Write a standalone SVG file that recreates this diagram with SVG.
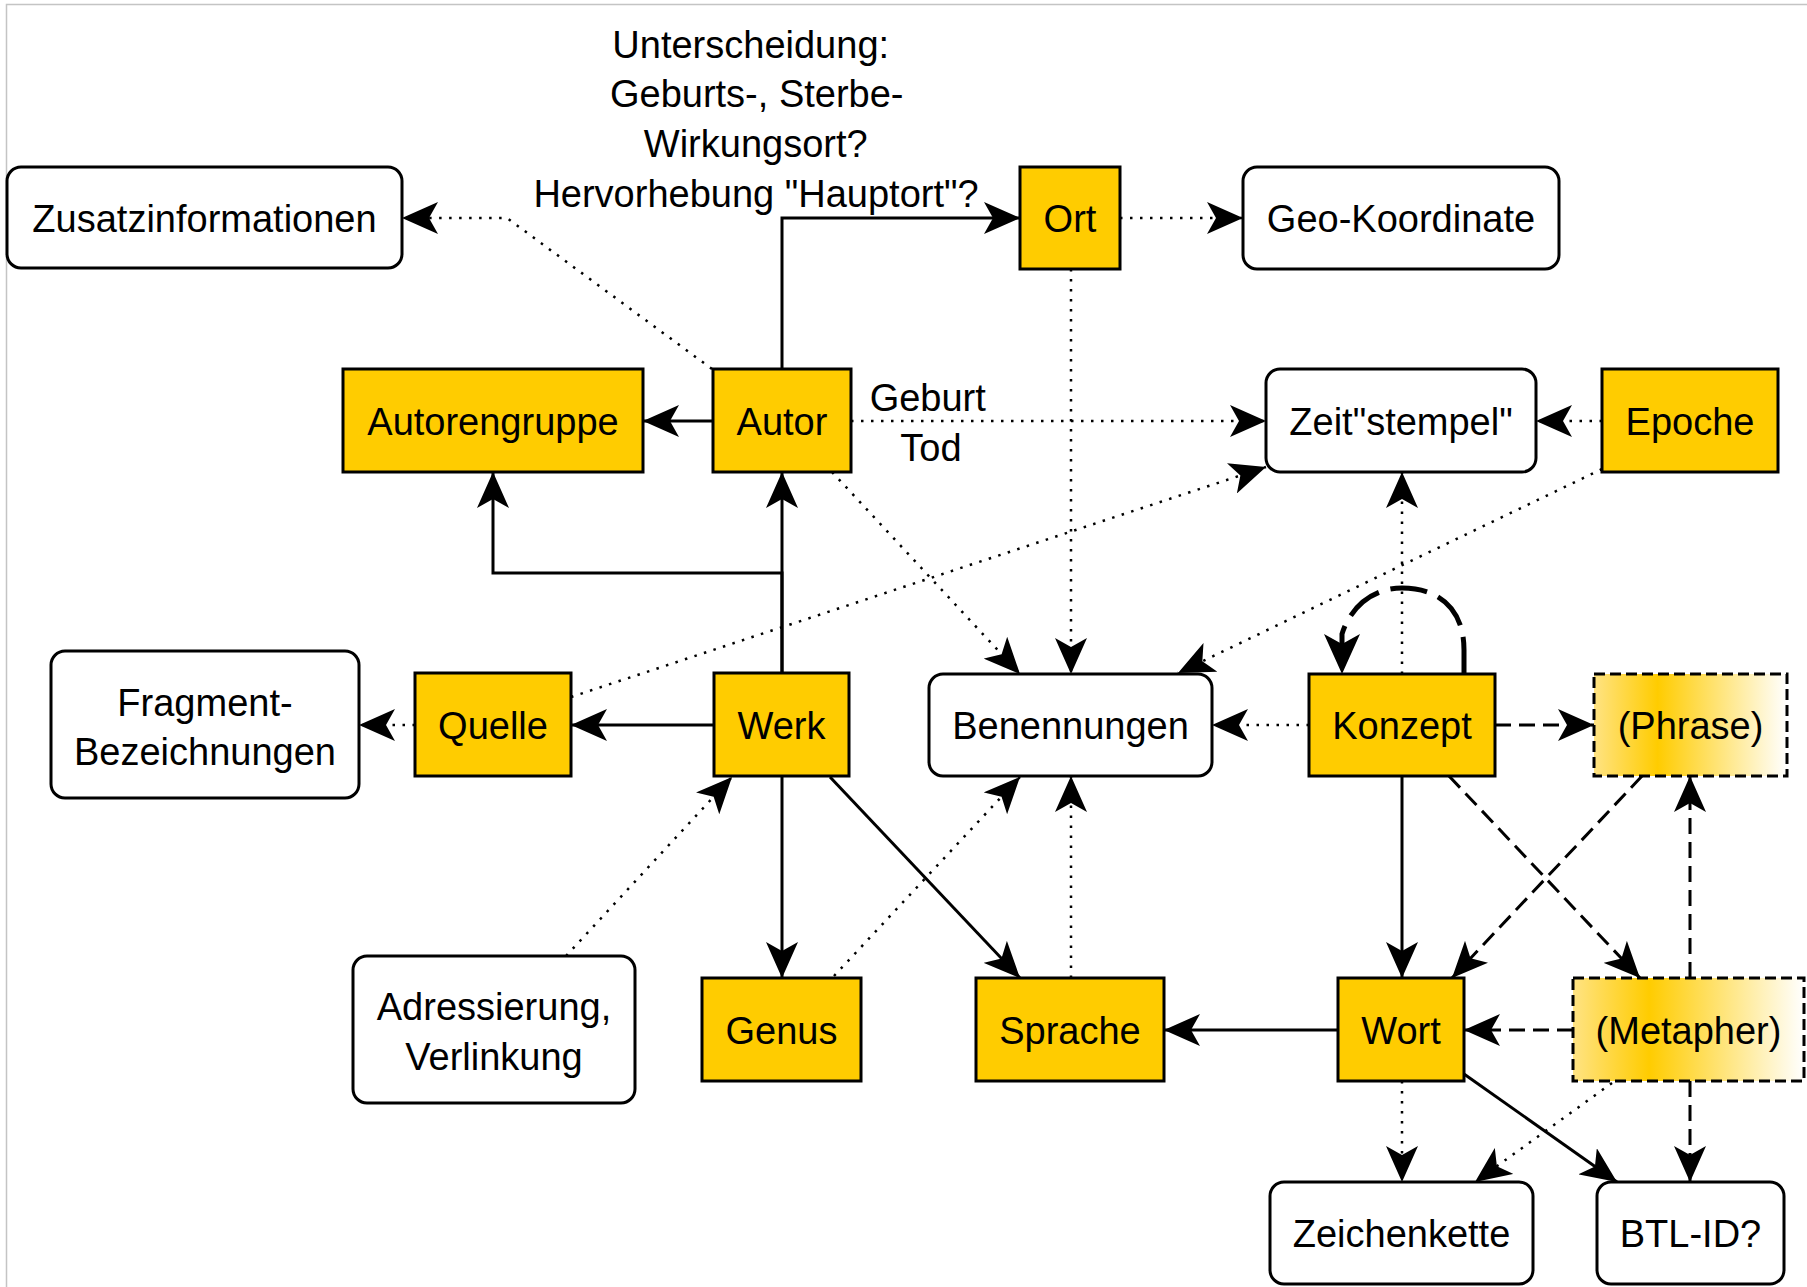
<svg xmlns="http://www.w3.org/2000/svg" width="1807" height="1287" viewBox="0 0 1807 1287">
<defs>
<style>
.n{fill:#FFCC00;stroke:#000;stroke-width:3}
.w{fill:#fff;stroke:#000;stroke-width:3}
.g{fill:url(#grad);stroke:#000;stroke-width:3;stroke-dasharray:11 5}
text{font-family:"Liberation Sans",Arial,sans-serif;font-size:38px;text-anchor:middle;fill:#000}
.s{fill:none;stroke:#000;stroke-width:3;marker-end:url(#a)}
.d{fill:none;stroke:#000;stroke-width:3;stroke-dasharray:16 8;marker-end:url(#a)}
.o{fill:none;stroke:#000;stroke-width:2.5;stroke-dasharray:2.5 7.5;marker-end:url(#a)}
.loop{fill:none;stroke:#000;stroke-width:5;stroke-dasharray:37 12;marker-end:url(#b)}
</style>
<linearGradient id="grad" x1="0" y1="0" x2="1" y2="0">
<stop offset="0" stop-color="#FFE383"/>
<stop offset="0.33" stop-color="#FFCC00"/>
<stop offset="1" stop-color="#FFFFFF"/>
</linearGradient>
<marker id="a" markerUnits="userSpaceOnUse" markerWidth="36" markerHeight="32" viewBox="0 0 36 32" refX="36" refY="16" orient="auto">
<path d="M36,16 L0,0 L9,16 L0,32 Z" fill="#000"/>
</marker>
<marker id="b" markerUnits="userSpaceOnUse" markerWidth="40" markerHeight="36" viewBox="0 0 40 36" refX="40" refY="18" orient="auto">
<path d="M40,18 L0,0 L10,18 L0,36 Z" fill="#000"/>
</marker>
</defs>
<rect x="0" y="0" width="1807" height="1287" fill="#fff"/>
<path d="M6.5,1287 L6.5,4.5 L1807,4.5" fill="none" stroke="#c4c4c4" stroke-width="1.5"/>

<g id="connectors">
<path class="o" d="M712,369 L507,218 L402,218"/>
<path class="s" d="M782,369 L782,218 L1020,218"/>
<path class="o" d="M1120,218 L1243,218"/>
<path class="s" d="M713,421 L643,421"/>
<path class="o" d="M851,421 L1266,421"/>
<path class="o" d="M1602,421 L1536,421"/>
<path class="o" d="M1071,269 L1071,674"/>
<path class="o" d="M832,472 L1020,674"/>
<path class="o" d="M1602,469 L1178,673"/>
<path class="o" d="M571,697 L1266,467"/>
<path class="o" d="M1402,674 L1402,472"/>
<path class="loop" d="M1464,674 L1464,650 C1464,610 1440,588 1402,588 C1372,588 1350,608 1342,634 L1342,674"/>
<path class="o" d="M1309,725 L1212,725"/>
<path class="d" d="M1495,725 L1594,725"/>
<path class="s" d="M1402,776 L1402,978"/>
<path class="d" d="M1449,776 L1640,978"/>
<path class="d" d="M1642,776 L1452,978"/>
<path class="d" d="M1690,978 L1690,776"/>
<path class="d" d="M1573,1030 L1464,1030"/>
<path class="d" d="M1690,1081 L1690,1182"/>
<path class="o" d="M1612,1083 L1475,1182"/>
<path class="o" d="M1402,1081 L1402,1182"/>
<path class="s" d="M1464,1074 L1617,1182"/>
<path class="s" d="M1338,1030 L1164,1030"/>
<path class="s" d="M830,777 L1020,978"/>
<path class="s" d="M782,776 L782,978"/>
<path class="s" d="M714,725 L571,725"/>
<path class="s" d="M782,673 L782,472"/>
<path class="s" d="M782,673 L782,573 L493,573 L493,472"/>
<path class="o" d="M415,725 L359,725"/>
<path class="o" d="M566,956 L732,777"/>
<path class="o" d="M834,976 L1020,777"/>
<path class="o" d="M1071,978 L1071,776"/>
<text>
<tspan x="756" y="58">Unterscheidung:</tspan>
<tspan x="762" y="107">Geburts-, Sterbe-</tspan>
<tspan x="761" y="157">Wirkungsort?</tspan>
<tspan x="756" y="207">Hervorhebung "Hauptort"?</tspan>
</text>
<text>
<tspan x="933" y="411">Geburt</tspan>
<tspan x="931" y="461">Tod</tspan>
</text>
</g>

<g id="zusatz"><rect class="w" x="7" y="167" width="395" height="101" rx="14"/><text x="204.5" y="232">Zusatzinformationen</text></g>
<g id="ort"><rect class="n" x="1020" y="167" width="100" height="102"/><text x="1070" y="232">Ort</text></g>
<g id="geo"><rect class="w" x="1243" y="167" width="316" height="102" rx="14"/><text x="1401" y="232">Geo-Koordinate</text></g>
<g id="autorengruppe"><rect class="n" x="343" y="369" width="300" height="103"/><text x="493" y="435">Autorengruppe</text></g>
<g id="autor"><rect class="n" x="713" y="369" width="138" height="103"/><text x="782" y="435">Autor</text></g>
<g id="zeitstempel"><rect class="w" x="1266" y="369" width="270" height="103" rx="14"/><text x="1401" y="435">Zeit"stempel"</text></g>
<g id="epoche"><rect class="n" x="1602" y="369" width="176" height="103"/><text x="1690" y="435">Epoche</text></g>
<g id="fragment"><rect class="w" x="51" y="651" width="308" height="147" rx="14"/><text><tspan x="205" y="716">Fragment-</tspan><tspan x="205" y="765">Bezeichnungen</tspan></text></g>
<g id="quelle"><rect class="n" x="415" y="673" width="156" height="103"/><text x="493" y="739">Quelle</text></g>
<g id="werk"><rect class="n" x="714" y="673" width="135" height="103"/><text x="781.5" y="739">Werk</text></g>
<g id="benennungen"><rect class="w" x="929" y="674" width="283" height="102" rx="14"/><text x="1070.5" y="739">Benennungen</text></g>
<g id="konzept"><rect class="n" x="1309" y="674" width="186" height="102"/><text x="1402" y="739">Konzept</text></g>
<g id="phrase"><rect class="g" x="1594" y="674" width="193" height="102"/><text x="1690.5" y="739">(Phrase)</text></g>
<g id="adressierung"><rect class="w" x="353" y="956" width="282" height="147" rx="14"/><text><tspan x="494" y="1020">Adressierung,</tspan><tspan x="494" y="1070">Verlinkung</tspan></text></g>
<g id="genus"><rect class="n" x="702" y="978" width="159" height="103"/><text x="781.5" y="1044">Genus</text></g>
<g id="sprache"><rect class="n" x="976" y="978" width="188" height="103"/><text x="1070" y="1044">Sprache</text></g>
<g id="wort"><rect class="n" x="1338" y="978" width="126" height="103"/><text x="1401" y="1044">Wort</text></g>
<g id="metapher"><rect class="g" x="1573" y="978" width="231" height="103"/><text x="1688.5" y="1044">(Metapher)</text></g>
<g id="zeichenkette"><rect class="w" x="1270" y="1182" width="263" height="102" rx="14"/><text x="1401.5" y="1247">Zeichenkette</text></g>
<g id="btl"><rect class="w" x="1597" y="1182" width="187" height="102" rx="14"/><text x="1690.5" y="1247">BTL-ID?</text></g>
</svg>
